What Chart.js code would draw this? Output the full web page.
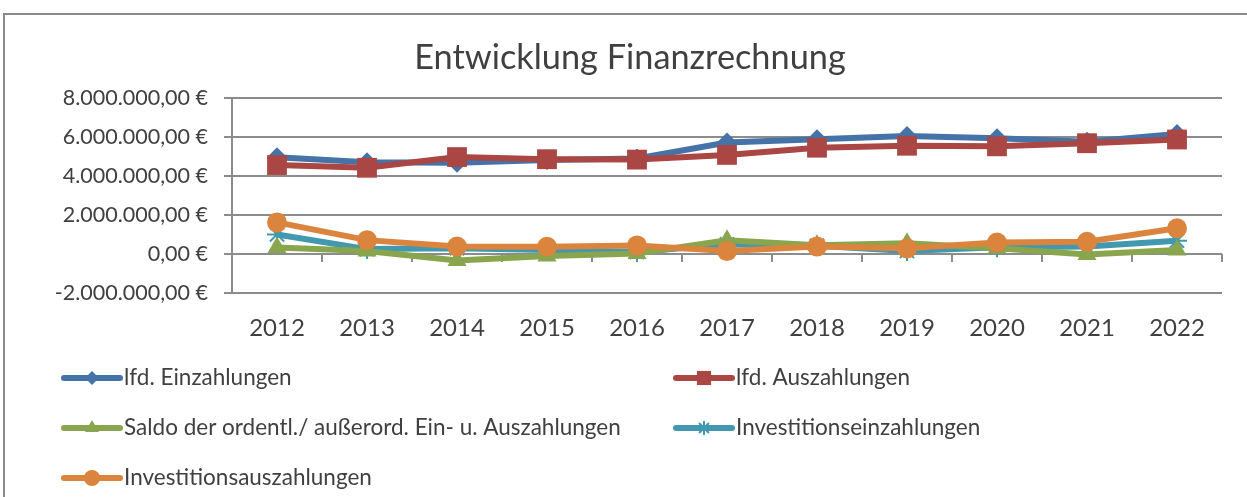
<!DOCTYPE html>
<html lang="de">
<head>
<meta charset="utf-8">
<title>Entwicklung Finanzrechnung</title>
<script src="https://cdn.jsdelivr.net/npm/chart.js@4.4.1/dist/chart.umd.min.js"></script>
<style>
  html, body { margin: 0; padding: 0; background: #fff; }
</style>
</head>
<body>
<canvas id="myChart" width="1247" height="497"></canvas>
<script>
// Jahre und Werte der Finanzrechnung (in Euro)
const years = ['2012', '2013', '2014', '2015', '2016', '2017', '2018', '2019', '2020', '2021', '2022'];
const lfdEinzahlungen = [4960000, 4700000, 4680000, 4820000, 4900000, 5720000, 5880000, 6050000, 5930000, 5750000, 6150000];
const lfdAuszahlungen = [4560000, 4420000, 4970000, 4860000, 4840000, 5080000, 5450000, 5550000, 5520000, 5680000, 5870000];
const saldo = [330000, 150000, -330000, -100000, 30000, 700000, 450000, 550000, 300000, -30000, 200000];
const investEinzahlungen = [1000000, 250000, 300000, 200000, 100000, 500000, 420000, 150000, 350000, 380000, 680000];
const investAuszahlungen = [1620000, 710000, 380000, 370000, 440000, 150000, 380000, 290000, 590000, 630000, 1320000];
const yTicks = [-2000000, 0, 2000000, 4000000, 6000000, 8000000];

const FONT = 'Lato, "Open Sans", sans-serif';
const TEXT = '#404040';
const GRID = '#8c8c8c';

function serie(label, data, color, style, radius, legendRadius, order) {
    return {
        label: label,
        data: data,
        borderColor: color,
        backgroundColor: color,
        borderWidth: 6,
        pointStyle: style,
        pointRadius: radius,
        pointHoverRadius: radius,
        pointBackgroundColor: color,
        pointBorderColor: color,
        pointBorderWidth: style === 'star' ? 2 : 0,
        legendRadius: legendRadius,
        tension: 0,
        order: order
    };
}

// Rahmen um das ganze Diagramm
const frame = {
    id: 'frame',
    beforeDraw(chart) {
        const ctx = chart.ctx;
        ctx.save();
        ctx.fillStyle = '#fff';
        ctx.fillRect(0, 0, chart.width, chart.height);
        ctx.strokeStyle = '#8a8a8a';
        ctx.lineWidth = 2;
        ctx.strokeRect(4, 14, chart.width + 20, chart.height + 20);
        ctx.restore();
    }
};

// kleine Teilstriche an der Nulllinie zwischen den Jahren
const zeroTicks = {
    id: 'zeroTicks',
    beforeDatasetsDraw(chart) {
        const x = chart.scales.x, y = chart.scales.y;
        const y0 = y.getPixelForValue(0);
        const ctx = chart.ctx;
        ctx.save();
        ctx.strokeStyle = GRID;
        ctx.lineWidth = 2;
        ctx.beginPath();
        for (let i = 0; i <= years.length; i++) {
            const px = Math.round(x.getPixelForValue(i - 0.5));
            ctx.moveTo(px, y0);
            ctx.lineTo(px, y0 + 8);
        }
        ctx.stroke();
        ctx.restore();
    }
};

// Legende in zwei Spalten unter dem Diagramm
const twoColLegend = {
    id: 'twoColLegend',
    afterDraw(chart) {
        const ctx = chart.ctx;
        const cols = [64, 676];
        ctx.save();
        ctx.font = '22.5px ' + FONT;
        ctx.textBaseline = 'middle';
        ctx.textAlign = 'left';
        chart.data.datasets.forEach((ds, i) => {
            const x = cols[i % 2];
            const y = 378 + Math.floor(i / 2) * 50;
            ctx.strokeStyle = ds.borderColor;
            ctx.fillStyle = ds.borderColor;
            ctx.lineWidth = 6;
            ctx.lineCap = 'round';
            ctx.beginPath();
            ctx.moveTo(x, y);
            ctx.lineTo(x + 56, y);
            ctx.stroke();
            ctx.lineCap = 'butt';
            ctx.lineWidth = ds.pointBorderWidth || 0;
            Chart.helpers.drawPoint(ctx, {
                pointStyle: ds.pointStyle,
                radius: ds.legendRadius,
                rotation: 0,
                borderWidth: ds.pointBorderWidth
            }, x + 28, y);
            ctx.fillStyle = TEXT;
            ctx.fillText(ds.label, x + 60, y);
        });
        ctx.restore();
    }
};

const ctx = document.getElementById('myChart').getContext('2d');
const myChart = new Chart(ctx, {
    type: 'line',
    data: {
        labels: years,
        datasets: [
            serie('lfd. Einzahlungen', lfdEinzahlungen, '#4572A7', 'rectRot', 10, 7, 5),
            serie('lfd. Auszahlungen', lfdAuszahlungen, '#AA4643', 'rect', 14, 10, 4),
            serie('Saldo der ordentl./ außerord. Ein- u. Auszahlungen', saldo, '#89A54E', 'triangle', 11, 8, 2),
            serie('Investitionseinzahlungen', investEinzahlungen, '#4198AF', 'star', 10, 7, 3),
            serie('Investitionsauszahlungen', investAuszahlungen, '#DB843D', 'circle', 10, 8, 1)
        ]
    },
    options: {
        responsive: false,
        animation: false,
        layout: { padding: { left: 38, right: 25, top: 0, bottom: 149 } },
        plugins: {
            legend: { display: false },
            tooltip: { enabled: false },
            title: {
                display: true,
                text: 'Entwicklung Finanzrechnung',
                color: TEXT,
                font: { family: FONT, size: 34.3, weight: 'normal', lineHeight: 1.2 },
                padding: { top: 37.4, bottom: 19.4 }
            }
        },
        scales: {
            x: {
                offset: true,
                grid: { display: false, drawTicks: false },
                border: { display: false },
                ticks: { color: TEXT, font: { family: FONT, size: 24 }, padding: 20.6, maxRotation: 0 },
                afterFit(scale) { scale.height = 55; }
            },
            y: {
                min: -2000000,
                max: 8000000,
                afterBuildTicks(scale) { scale.ticks = yTicks.map(v => ({ value: v })); },
                grid: { color: GRID, lineWidth: 2, tickLength: 8, drawTicks: true },
                border: { display: true, color: GRID, width: 2 },
                ticks: {
                    color: TEXT,
                    padding: 16,
                    font: { family: FONT, size: 21.5 },
                    callback: v => v.toLocaleString('de-DE', { minimumFractionDigits: 2, maximumFractionDigits: 2 }) + ' €'
                },
                afterFit(scale) { scale.width = 194; }
            }
        }
    },
    plugins: [frame, zeroTicks, twoColLegend]
});
</script>
</body>
</html>
